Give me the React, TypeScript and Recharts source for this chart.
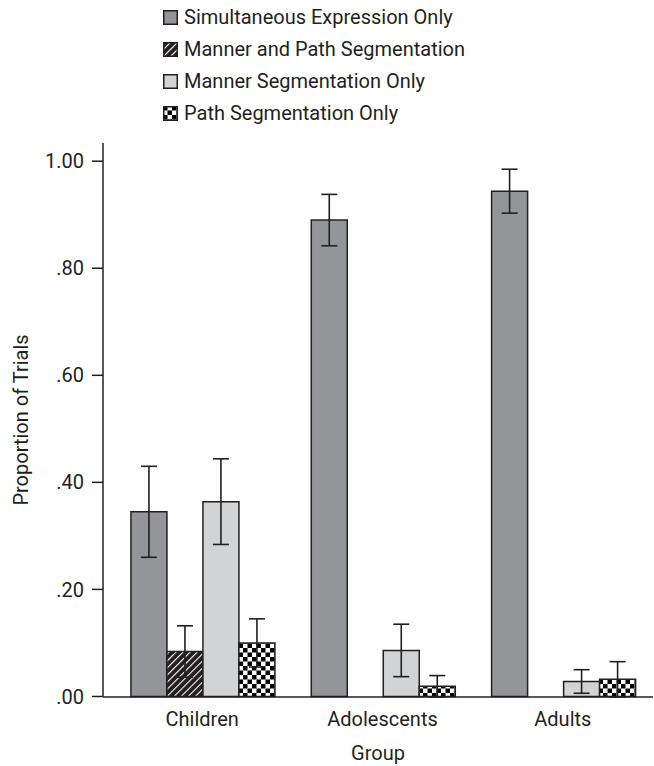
import { BarChart, Bar, XAxis, YAxis, ErrorBar } from 'recharts';

const groups = ['Children', 'Adolescents', 'Adults'];
const simultaneous = [0.345, 0.89, 0.944];
const simultaneousErr = [0.085, 0.048, 0.041];
const mannerPath = [0.084, 0, 0];
const mannerPathErr = [0.048, 0, 0];
const mannerOnly = [0.364, 0.086, 0.028];
const mannerOnlyErr = [0.08, 0.049, 0.022];
const pathOnly = [0.1, 0.019, 0.032];
const pathOnlyErr = [0.045, 0.02, 0.033];
const yTicks = [0, 0.2, 0.4, 0.6, 0.8, 1.0];

const series = [
  { key: 'sim', name: 'Simultaneous Expression Only', fill: '#939598' },
  { key: 'mp', name: 'Manner and Path Segmentation', fill: 'url(#hatch)' },
  { key: 'm', name: 'Manner Segmentation Only', fill: '#d1d3d4' },
  { key: 'p', name: 'Path Segmentation Only', fill: 'url(#checker)' },
];

const data = groups.map((g, i) => ({
  group: g,
  sim: simultaneous[i],
  simErr: simultaneousErr[i],
  mp: mannerPath[i],
  mpErr: mannerPathErr[i],
  m: mannerOnly[i],
  mErr: mannerOnlyErr[i],
  p: pathOnly[i],
  pErr: pathOnlyErr[i],
}));

const ink = '#231f20';
const font = 'Roboto, "Liberation Sans", sans-serif';

const fmt = (v: number) => (v === 1 ? '1.00' : v.toFixed(2).replace(/^0/, ''));

function LegendBox() {
  return (
    <div style={{ position: 'absolute', left: 163, top: 1, fontFamily: font, fontSize: 20, color: ink }}>
      {series.map((s) => (
        <div key={s.key} style={{ display: 'flex', alignItems: 'center', height: 32 }}>
          <svg width={15} height={15} style={{ marginRight: 6 }}>
            <rect x={0.75} y={0.75} width={13.5} height={13.5} fill={s.fill} stroke={ink} strokeWidth={1.5} />
          </svg>
          <span>{s.name}</span>
        </div>
      ))}
    </div>
  );
}

export default function App() {
  return (
    <div style={{ position: 'absolute', left: 0, top: 0, width: 654, height: 766, background: '#fff' }}>
      <BarChart
        width={654}
        height={766}
        data={data}
        margin={{ top: 143, right: 1, bottom: 0, left: 0 }}
        barGap={0}
        barCategoryGap="10.5%"
      >
        <defs>
          <pattern id="hatch" patternUnits="userSpaceOnUse" width={5} height={5} patternTransform="rotate(45)">
            <rect width={5} height={5} fill="#231f20" />
            <line x1={0} y1={0} x2={0} y2={5} stroke="#fff" strokeWidth={2.2} />
          </pattern>
          <pattern id="checker" patternUnits="userSpaceOnUse" width={9} height={9}>
            <rect width={9} height={9} fill="#fff" />
            <rect width={4.5} height={4.5} fill="#000" />
            <rect x={4.5} y={4.5} width={4.5} height={4.5} fill="#000" />
          </pattern>
        </defs>
        <XAxis
          dataKey="group"
          height={69}
          padding={{ left: 9, right: 0 }}
          tickLine={false}
          stroke={ink}
          strokeWidth={1.5}
          tick={{ fontSize: 20, fill: ink, fontFamily: font }}
          tickMargin={9}
          label={{ value: 'Group', position: 'insideBottom', offset: 6, fontSize: 20, fill: ink, fontFamily: font }}
        />
        <YAxis
          width={103}
          domain={[0, 1.034]}
          ticks={yTicks}
          tickFormatter={fmt}
          stroke={ink}
          strokeWidth={1.5}
          tickSize={11}
          tickMargin={8}
          tick={{ fontSize: 20, fill: ink, fontFamily: font }}
          label={{ value: 'Proportion of Trials', angle: -90, position: 'insideLeft', offset: 21, fontSize: 20, fill: ink, fontFamily: font, style: { textAnchor: 'middle' } }}
        />
        {series.map((s) => (
          <Bar key={s.key} dataKey={s.key} name={s.name} fill={s.fill} stroke={ink} strokeWidth={1.5} isAnimationActive={false}>
            <ErrorBar dataKey={`${s.key}Err`} width={8} stroke={ink} strokeWidth={1.6} direction="y" />
          </Bar>
        ))}
      </BarChart>
      <LegendBox />
    </div>
  );
}
